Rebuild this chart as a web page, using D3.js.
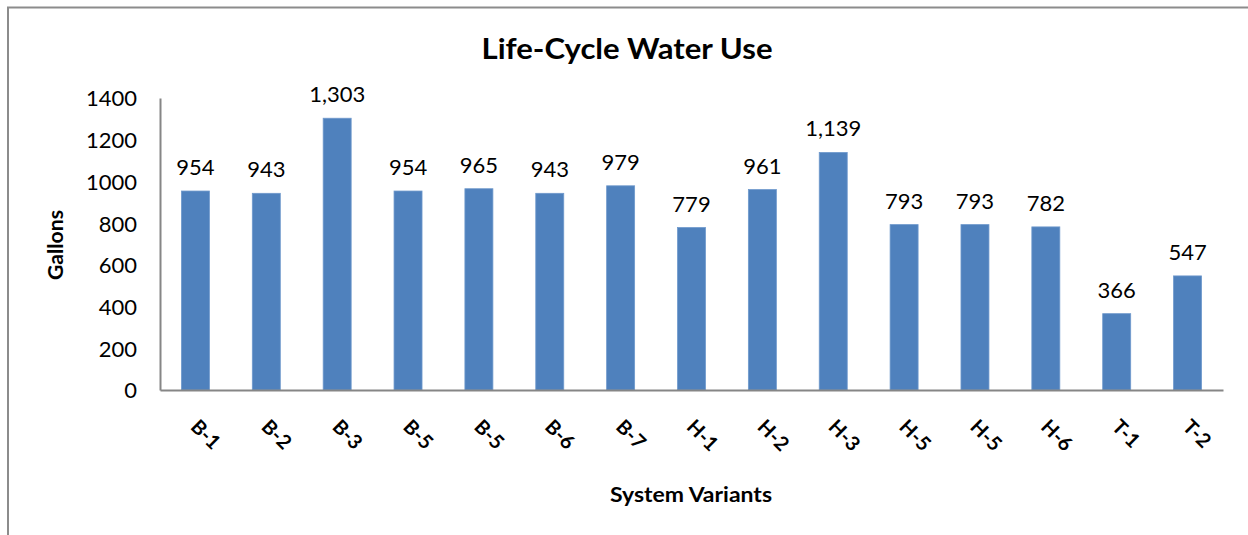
<!DOCTYPE html>
<html>
<head>
<meta charset="utf-8">
<script src="https://cdn.jsdelivr.net/npm/d3@7/dist/d3.min.js"></script>
<style>
  html, body { margin: 0; padding: 0; background: #fff; }
  svg { display: block; }
  text { font-family: Lato, "Open Sans", sans-serif; fill: #000; }
</style>
</head>
<body>
<svg id="chart" width="1248" height="535"></svg>
<script>
const categories = ["B-1","B-2","B-3","B-5","B-5","B-6","B-7","H-1","H-2","H-3","H-5","H-5","H-6","T-1","T-2"];
const values = [954, 943, 1303, 954, 965, 943, 979, 779, 961, 1139, 793, 793, 782, 366, 547];
const yTicks = [0, 200, 400, 600, 800, 1000, 1200, 1400];
const titleText = "Life-Cycle Water Use";
const xTitleText = "System Variants";
const yTitleText = "Gallons";

const svg = d3.select("#chart");
const plot = { left: 160, right: 1223, top: 98, bottom: 390 };

// chart border
svg.append("rect")
  .attr("x", 8).attr("y", 7.5)
  .attr("width", 1400).attr("height", 700)
  .attr("fill", "none").attr("stroke", "#8c8c8c").attr("stroke-width", 2);

const idx = categories.map((d, i) => i);
const x = d3.scaleBand().domain(idx).range([plot.left, plot.right]).paddingInner(0.605).paddingOuter(0.3025);
const y = d3.scaleLinear().domain([0, 1400]).range([plot.bottom, plot.top]);

// bars
svg.append("g").selectAll("rect").data(values).join("rect")
  .attr("x", (d, i) => x(i))
  .attr("y", d => y(d))
  .attr("width", x.bandwidth())
  .attr("height", d => y(0) - y(d))
  .attr("fill", "#4f81bd")
  .attr("stroke", "#6f99cc").attr("stroke-width", 0.8);

// data labels
const fmt = d3.format(",");
svg.append("g").selectAll("text").data(values).join("text")
  .attr("x", (d, i) => x(i) + x.bandwidth() / 2)
  .attr("y", d => y(d) - 16)
  .attr("text-anchor", "middle")
  .style("font-size", "22px")
  .text(d => fmt(d));

// y axis
const yAxis = svg.append("g")
  .attr("transform", `translate(${plot.left},0)`)
  .call(d3.axisLeft(y).tickValues(yTicks).tickFormat(d3.format("d")).tickSize(0).tickPadding(23));
yAxis.select(".domain").attr("stroke", "#868686").attr("stroke-width", 2);
yAxis.selectAll(".tick text").style("font-size", "22px").style("font-family", "Lato, sans-serif").attr("fill", "#000").attr("dy", "0.36em");

// x axis
const xb = d3.scaleBand().domain(idx).range([plot.left, plot.right]);
const xAxis = svg.append("g")
  .attr("transform", `translate(0,${plot.bottom})`)
  .call(d3.axisBottom(xb).tickSize(0).tickFormat(() => ""));
xAxis.select(".domain").attr("stroke", "#868686").attr("stroke-width", 2);
xAxis.selectAll(".tick text").remove();

// rotated category labels
svg.append("g").selectAll("text").data(categories).join("text")
  .attr("transform", (d, i) => `translate(${xb(i) + xb.bandwidth() / 2 - 6},${plot.bottom + 38}) rotate(45)`)
  .attr("text-anchor", "start")
  .style("font-size", "20px")
  .style("font-weight", "bold")
  .text(d => d);

// title
svg.append("text")
  .attr("x", 627).attr("y", 59)
  .attr("text-anchor", "middle")
  .style("font-size", "29px").style("font-weight", "bold")
  .attr("textLength", 291).attr("lengthAdjust", "spacingAndGlyphs")
  .text(titleText);

// x title
svg.append("text")
  .attr("x", 691).attr("y", 502)
  .attr("text-anchor", "middle")
  .style("font-size", "21px").style("font-weight", "bold")
  .attr("textLength", 162).attr("lengthAdjust", "spacingAndGlyphs")
  .text(xTitleText);

// y title
svg.append("text")
  .attr("transform", "translate(63,245) rotate(-90)")
  .attr("text-anchor", "middle")
  .style("font-size", "21px").style("font-weight", "bold")
  .attr("textLength", 70).attr("lengthAdjust", "spacingAndGlyphs")
  .text(yTitleText);
</script>
</body>
</html>
